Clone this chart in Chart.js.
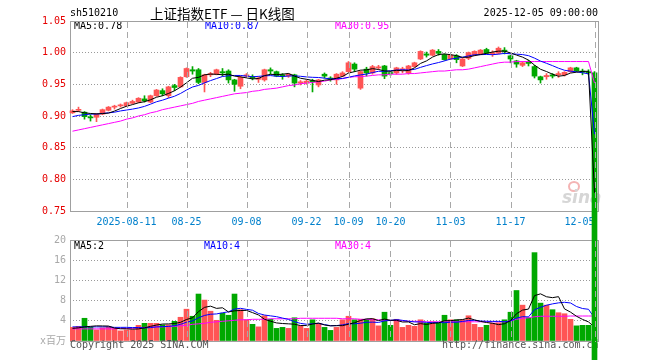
<!DOCTYPE html>
<html>
<head>
<meta charset="utf-8">
<script src="https://cdn.jsdelivr.net/npm/chart.js@4.4.1/dist/chart.umd.min.js"></script>
<style>
  html, body { margin: 0; padding: 0; background: #fff; }
  #wrap { position: relative; width: 660px; height: 360px; overflow: hidden;
          font-family: "DejaVu Sans Mono", monospace; font-size: 10px; }
  canvas { position: absolute; left: 0; top: 0; }
  #volChart { z-index: 1; }
  #priceChart { z-index: 3; }
  .t { position: absolute; z-index: 2; white-space: pre; line-height: 12px; }
  .vline { position: absolute; width: 1px; z-index: 4;
           background: repeating-linear-gradient(to bottom, #a8a8a8 0 6px, transparent 6px 10px); }
</style>
</head>
<body>
<div id="wrap">
  <canvas id="volChart" width="660" height="360"></canvas>

  <div class="t" style="left:70px;top:7px;color:#000">sh510210</div>
  <div class="t" style="left:150px;top:6px;font:13.5px/14px 'Noto Sans CJK SC',sans-serif;color:#000">上证指数ETF — 日K线图</div>
  <div class="t" style="right:62px;top:7px;color:#000">2025-12-05 09:00:00</div>

  <div class="t" id="pMa5" style="left:74px;top:20px;color:#000"></div>
  <div class="t" id="pMa10" style="left:205px;top:20px;color:#0000ff"></div>
  <div class="t" id="pMa30" style="left:335px;top:20px;color:#ff00ff"></div>

  <div class="t" id="vMa5" style="left:74px;top:240px;color:#000"></div>
  <div class="t" id="vMa10" style="left:204px;top:240px;color:#0000ff"></div>
  <div class="t" id="vMa30" style="left:335px;top:240px;color:#ff00ff"></div>

  <div class="t" style="left:568px;top:181px;width:8px;height:7px;border:2px solid #f4b4b4;border-radius:50%"></div>
  <div class="t" style="left:562px;top:189px;font:italic bold 17px/17px 'DejaVu Sans',sans-serif;color:#d6d6d6">sina</div>

  <div class="t" style="left:70px;top:339px;color:#555">Copyright 2025 SINA.COM</div>
  <div class="t" style="left:442px;top:339px;color:#555">http://finance.sina.com.cn</div>

  <canvas id="priceChart" width="660" height="360"></canvas>
</div>
<script>
// trading days shown
const dates = [
  '2025-07-29','2025-07-30','2025-07-31','2025-08-01','2025-08-04','2025-08-05','2025-08-06','2025-08-07','2025-08-08','2025-08-11',
  '2025-08-12','2025-08-13','2025-08-14','2025-08-15','2025-08-18','2025-08-19','2025-08-20','2025-08-21','2025-08-22','2025-08-25',
  '2025-08-26','2025-08-27','2025-08-28','2025-08-29','2025-09-01','2025-09-02','2025-09-03','2025-09-04','2025-09-05','2025-09-08',
  '2025-09-09','2025-09-10','2025-09-11','2025-09-12','2025-09-15','2025-09-16','2025-09-17','2025-09-18','2025-09-19','2025-09-22',
  '2025-09-23','2025-09-24','2025-09-25','2025-09-26','2025-09-29','2025-09-30','2025-10-09','2025-10-10','2025-10-13','2025-10-14',
  '2025-10-15','2025-10-16','2025-10-17','2025-10-20','2025-10-21','2025-10-22','2025-10-23','2025-10-24','2025-10-27','2025-10-28',
  '2025-10-29','2025-10-30','2025-10-31','2025-11-03','2025-11-04','2025-11-05','2025-11-06','2025-11-07','2025-11-10','2025-11-11',
  '2025-11-12','2025-11-13','2025-11-14','2025-11-17','2025-11-18','2025-11-19','2025-11-20','2025-11-21','2025-11-24','2025-11-25',
  '2025-11-26','2025-11-27','2025-11-28','2025-12-01','2025-12-02','2025-12-03','2025-12-04','2025-12-05'
];
const tickDates = ['2025-08-11','2025-08-25','2025-09-08','2025-09-22','2025-10-09','2025-10-20','2025-11-03','2025-11-17','2025-12-05'];

const open = [
  0.905,0.909,0.906,0.898,0.898,0.903,0.909,0.914,0.916,0.916,
  0.920,0.922,0.927,0.922,0.932,0.940,0.932,0.948,0.946,0.962,
  0.973,0.973,0.953,0.965,0.966,0.970,0.971,0.957,0.947,0.963,
  0.962,0.958,0.957,0.973,0.970,0.965,0.963,0.965,0.952,0.952,
  0.956,0.949,0.966,0.960,0.957,0.963,0.970,0.982,0.944,0.974,
  0.968,0.976,0.979,0.968,0.968,0.973,0.968,0.978,0.990,0.998,
  0.996,1.002,0.997,0.990,0.995,0.979,0.991,0.996,0.998,1.005,
  0.998,0.999,1.004,0.995,0.987,0.980,0.985,0.978,0.962,0.962,
  0.965,0.965,0.965,0.970,0.976,0.971,0.970,0.968
];
const close = [
  0.908,0.910,0.899,0.897,0.903,0.910,0.914,0.915,0.917,0.921,
  0.923,0.928,0.924,0.932,0.941,0.935,0.946,0.945,0.961,0.975,
  0.971,0.953,0.965,0.967,0.973,0.968,0.957,0.950,0.961,0.965,
  0.960,0.960,0.973,0.971,0.963,0.963,0.966,0.952,0.954,0.955,
  0.954,0.957,0.963,0.958,0.966,0.968,0.984,0.974,0.970,0.968,
  0.978,0.977,0.963,0.967,0.976,0.974,0.979,0.984,1.002,0.996,
  1.004,0.999,0.989,0.996,0.989,0.990,1.000,1.002,1.004,0.999,
  1.000,1.007,1.002,0.990,0.982,0.984,0.983,0.963,0.957,0.964,
  0.963,0.967,0.969,0.976,0.971,0.969,0.968,0.010
];
const high = [
  0.910,0.914,0.907,0.902,0.904,0.911,0.915,0.917,0.919,0.922,
  0.925,0.929,0.932,0.933,0.942,0.943,0.947,0.950,0.962,0.976,
  0.978,0.975,0.966,0.969,0.974,0.975,0.973,0.958,0.963,0.967,
  0.965,0.962,0.974,0.976,0.971,0.967,0.967,0.966,0.956,0.957,
  0.958,0.958,0.968,0.962,0.967,0.970,0.986,0.984,0.971,0.977,
  0.980,0.980,0.980,0.970,0.977,0.977,0.980,0.985,1.003,1.001,
  1.005,1.005,0.998,0.997,0.997,0.991,1.001,1.003,1.005,1.007,
  1.003,1.009,1.008,0.996,0.988,0.986,0.988,0.980,0.963,0.967,
  0.967,0.970,0.970,0.977,0.977,0.974,0.973,0.970
];
const low = [
  0.904,0.907,0.895,0.892,0.891,0.902,0.908,0.911,0.914,0.915,
  0.919,0.921,0.922,0.921,0.931,0.932,0.929,0.940,0.945,0.961,
  0.966,0.951,0.938,0.962,0.965,0.963,0.952,0.939,0.943,0.961,
  0.957,0.953,0.955,0.966,0.962,0.958,0.961,0.946,0.949,0.950,
  0.938,0.946,0.960,0.955,0.950,0.962,0.969,0.970,0.942,0.963,
  0.966,0.974,0.959,0.964,0.966,0.968,0.966,0.977,0.989,0.993,
  0.995,0.996,0.988,0.989,0.984,0.978,0.989,0.995,0.997,0.998,
  0.994,0.998,0.998,0.984,0.977,0.978,0.979,0.960,0.952,0.958,
  0.960,0.961,0.963,0.969,0.970,0.965,0.965,0.010
];
const ma5 = [
  0.907,0.907,0.905,0.904,0.9034,0.9038,0.9046,0.9078,0.9118,0.9154,
  0.918,0.9208,0.9226,0.9256,0.9296,0.932,0.9356,0.9398,0.9456,0.9524,
  0.9596,0.961,0.965,0.9662,0.9658,0.9652,0.966,0.963,0.9618,0.9602,
  0.9586,0.9592,0.9638,0.9658,0.9654,0.966,0.9672,0.963,0.9596,0.958,
  0.9562,0.9544,0.9566,0.9574,0.9596,0.9624,0.9678,0.97,0.9724,0.9728,
  0.9748,0.9734,0.9712,0.9706,0.9722,0.9714,0.9718,0.976,0.983,0.987,
  0.993,0.997,0.998,0.9968,0.9954,0.9926,0.9928,0.9954,0.997,0.999,
  1.001,1.0024,1.0024,0.9996,0.9962,0.993,0.9882,0.9804,0.9738,0.9702,
  0.966,0.9628,0.964,0.9678,0.9692,0.9704,0.9706,0.7788
];
const ma10 = [
  0.899,0.901,0.902,0.903,0.903,0.904,0.905,0.906,0.908,0.9094,
  0.9109,0.9127,0.9152,0.9187,0.9225,0.925,0.9282,0.9312,0.9356,0.941,
  0.9458,0.9483,0.9524,0.9559,0.9591,0.9624,0.9635,0.964,0.964,0.963,
  0.9619,0.9626,0.9634,0.9638,0.9628,0.9623,0.9632,0.9634,0.9627,0.9617,
  0.9611,0.9608,0.9598,0.9585,0.9588,0.9593,0.9611,0.9633,0.9649,0.9662,
  0.9686,0.9706,0.9706,0.9715,0.9725,0.9731,0.9726,0.9736,0.9768,0.9796,
  0.9822,0.9844,0.987,0.9899,0.9912,0.9928,0.9949,0.9967,0.9969,0.9972,
  0.9968,0.9976,0.9989,0.9983,0.9976,0.997,0.9953,0.9914,0.9867,0.9832,
  0.9795,0.9755,0.9722,0.9708,0.9697,0.9682,0.9667,0.8714
];
const ma30 = [
  0.876,0.878,0.880,0.882,0.884,0.886,0.888,0.890,0.892,0.895,
  0.897,0.900,0.902,0.905,0.907,0.910,0.912,0.914,0.916,0.918,
  0.920,0.923,0.925,0.927,0.929,0.931,0.933,0.935,0.936,0.937,
  0.939,0.940,0.942,0.943,0.944,0.946,0.948,0.949,0.951,0.952,
  0.953,0.954,0.955,0.957,0.958,0.959,0.961,0.962,0.962,0.963,
  0.964,0.965,0.965,0.966,0.966,0.966,0.967,0.967,0.968,0.969,
  0.970,0.971,0.971,0.972,0.973,0.973,0.974,0.976,0.978,0.980,
  0.982,0.984,0.985,0.985,0.986,0.986,0.986,0.986,0.986,0.986,
  0.986,0.986,0.986,0.986,0.986,0.986,0.986,0.952
];

// volume, millions
const volume = [
  2.7,2.9,4.5,2.7,2.2,2.6,2.8,2.5,2.0,2.2,
  2.2,3.1,3.5,3.5,3.5,3.2,3.2,3.9,4.7,6.3,
  4.9,9.3,8.1,5.9,4.1,5.5,5.1,9.3,6.2,4.2,
  3.3,2.8,5.0,4.3,2.5,2.7,2.5,4.6,3.0,2.5,
  4.2,3.5,2.7,2.1,2.7,4.2,4.9,4.2,4.3,4.3,
  4.4,3.0,5.7,3.1,4.3,2.7,3.1,2.9,4.2,3.5,
  3.8,3.5,5.1,4.2,4.2,4.2,5.0,3.3,2.7,3.1,
  3.5,3.6,4.2,5.7,10.0,7.1,4.6,17.5,7.5,7.1,
  6.2,5.6,5.4,4.3,3.0,3.1,3.1,0.3
];
const volMa5 = [
  2.5,2.6,2.8,2.9,3.0,2.98,2.96,2.56,2.42,2.42,
  2.34,2.4,2.6,2.9,3.16,3.36,3.38,3.46,3.7,4.26,
  4.6,5.82,6.66,6.9,6.46,6.58,5.74,5.98,6.04,6.06,
  5.62,5.16,4.3,3.92,3.58,3.46,3.4,3.32,3.06,3.06,
  3.36,3.56,3.18,3.0,3.04,3.04,3.32,3.62,4.06,4.38,
  4.42,4.04,4.34,4.1,4.1,3.76,3.78,3.22,3.44,3.28,
  3.5,3.58,4.02,4.02,4.16,4.24,4.54,4.18,3.88,3.66,
  3.52,3.24,3.42,4.02,5.4,6.12,6.32,8.98,9.34,8.76,
  8.58,8.78,6.36,5.72,4.9,4.28,3.78,2.76
];
const volMa10 = [
  2.8,2.8,2.8,2.8,2.8,2.8,2.8,2.7,2.7,2.71,
  2.66,2.68,2.58,2.66,2.79,2.85,2.89,3.03,3.3,3.71,
  3.98,4.6,5.06,5.3,5.36,5.59,5.78,6.32,6.47,6.26,
  6.1,5.45,5.14,4.98,4.82,4.54,4.28,3.81,3.49,3.32,
  3.41,3.48,3.25,3.03,3.05,3.2,3.44,3.4,3.53,3.71,
  3.73,3.68,3.98,4.08,4.24,4.09,3.91,3.78,3.77,3.69,
  3.63,3.68,3.62,3.73,3.72,3.87,4.06,4.1,3.95,3.91,
  3.88,3.89,3.8,3.95,4.53,4.82,4.78,6.2,6.68,7.08,
  7.35,7.55,7.67,7.53,6.83,6.43,6.28,4.56
];
const volMa30 = [
  2.4,2.4,2.4,2.4,2.4,2.4,2.4,2.4,2.5,2.5,
  2.5,2.6,2.7,2.8,2.8,2.8,2.9,2.9,3.0,3.1,
  3.3,3.4,3.5,3.7,3.8,3.9,4.0,4.1,4.2,4.2,
  4.3,4.3,4.3,4.4,4.4,4.4,4.4,4.4,4.5,4.5,
  4.5,4.5,4.5,4.5,4.5,4.4,4.4,4.4,4.3,4.3,
  4.2,4.2,4.1,4.1,4.0,4.0,3.9,3.9,3.9,3.8,
  3.8,3.8,3.8,3.8,3.8,3.8,3.8,3.8,3.8,3.8,
  3.8,3.8,3.8,4.0,4.3,4.5,4.6,4.8,4.9,4.9,
  4.9,4.9,4.9,4.95,4.95,4.95,4.95,4.95
];

const UP = '#ff5555', DOWN = '#00a800';
const last = dates.length - 1;

// MA readouts
document.getElementById('pMa5').textContent = 'MA5:' + ma5[last].toFixed(2);
document.getElementById('pMa10').textContent = 'MA10:' + ma10[last].toFixed(2);
document.getElementById('pMa30').textContent = 'MA30:' + ma30[last].toFixed(2);
document.getElementById('vMa5').textContent = 'MA5:' + Math.floor(volMa5[last]);
document.getElementById('vMa10').textContent = 'MA10:' + Math.floor(volMa10[last]);
document.getElementById('vMa30').textContent = 'MA30:' + Math.floor(volMa30[last]);

Chart.defaults.font.family = '"DejaVu Sans Mono", "Noto Sans CJK SC", monospace';
Chart.defaults.font.size = 10;

const idx = dates.map((d, i) => i);
const barColor = idx.map(i => close[i] >= open[i] ? UP : DOWN);
const tickIndex = [0].concat(tickDates.map(d => dates.indexOf(d)));
const xMin = -5 / 12, xMax = dates.length - 5 / 12;

function dateLabel(v) {
  const i = Math.round(v);
  if (i === 0) return '';
  return i === tickIndex[1] ? dates[i] : dates[i].slice(5);
}

// plot frame, then dashed date lines on top
const framePlugin = {
  id: 'frame',
  beforeDatasetsDraw(chart) {
    const { ctx, chartArea: a } = chart;
    ctx.save();
    ctx.lineWidth = 1;
    ctx.strokeStyle = '#a0a0a0';
    ctx.strokeRect(a.left + 0.5, a.top + 0.5, a.right - a.left, a.bottom - a.top);
    ctx.restore();
  },
  afterDraw(chart) {
    const { ctx, chartArea: a, scales } = chart;
    ctx.save();
    ctx.lineWidth = 1;
    ctx.strokeStyle = '#a8a8a8';
    ctx.setLineDash([6, 4]);
    tickIndex.slice(1).forEach(i => {
      const px = Math.round(scales.x.getPixelForValue(i)) + 0.5;
      ctx.beginPath();
      ctx.moveTo(px, a.top + 1);
      ctx.lineTo(px, a.bottom);
      ctx.stroke();
    });
    ctx.restore();
  }
};

function xScale(height, showLabels) {
  return {
    type: 'linear', min: xMin, max: xMax, offset: false,
    afterBuildTicks: s => { s.ticks = tickIndex.map(v => ({ value: v })); },
    afterFit: s => { s.height = height; },
    ticks: { display: showLabels, autoSkip: false, maxRotation: 0, minRotation: 0,
             color: '#0080cc', padding: 5, align: 'inner', callback: v => dateLabel(v) },
    grid: { display: false, drawTicks: false, offset: false },
    border: { display: false }
  };
}

const line = (data, color) => ({
  type: 'line', data: idx.map(i => ({ x: i, y: data[i] })),
  borderColor: color, borderWidth: 1, pointRadius: 0, tension: 0, order: 1
});

const priceChart = new Chart(document.getElementById('priceChart'), {
  type: 'bar',
  data: {
    datasets: [
      line(ma5, '#000000'),
      line(ma10, '#0000ff'),
      line(ma30, '#ff00ff'),
      { data: idx.map(i => ({ x: i, y: [open[i], close[i]] })), backgroundColor: barColor,
        barThickness: 5, minBarLength: 1, grouped: false, clip: false, order: 2 },
      { data: idx.map(i => ({ x: i, y: [low[i], high[i]] })), backgroundColor: barColor,
        barThickness: 1, grouped: false, clip: false, order: 3 }
    ]
  },
  options: {
    responsive: false, animation: false, devicePixelRatio: 1, events: [],
    layout: { padding: { top: 21, right: 62, left: 0, bottom: 0 } },
    plugins: { legend: { display: false }, tooltip: { enabled: false } },
    scales: {
      x: xScale(149, true),
      y: {
        type: 'linear', min: 0.75, max: 1.05,
        afterFit: s => { s.width = 70; },
        ticks: { stepSize: 0.05, color: '#e60000', padding: 4, callback: v => v.toFixed(2) },
        grid: { drawTicks: false,
                color: c => (c.tick && (c.tick.value < 0.76 || c.tick.value > 1.04)) ? 'rgba(0,0,0,0)' : '#9a9a9a' },
        border: { display: false, dash: [1, 2] }
      }
    }
  },
  plugins: [framePlugin]
});

const volChart = new Chart(document.getElementById('volChart'), {
  type: 'bar',
  data: {
    datasets: [
      line(volMa5, '#000000'),
      line(volMa10, '#0000ff'),
      line(volMa30, '#ff00ff'),
      { data: idx.map(i => ({ x: i, y: volume[i] })), backgroundColor: barColor,
        barThickness: 5, grouped: false, order: 2 }
    ]
  },
  options: {
    responsive: false, animation: false, devicePixelRatio: 1, events: [],
    layout: { padding: { top: 240, right: 62, left: 0, bottom: 0 } },
    plugins: { legend: { display: false }, tooltip: { enabled: false } },
    scales: {
      x: xScale(19, false),
      y: {
        type: 'linear', min: 0, max: 20,
        afterFit: s => { s.width = 70; },
        ticks: { stepSize: 4, color: '#a8a8a8', padding: 4, callback: v => v === 0 ? 'x百万' : v },
        grid: { drawTicks: false,
                color: c => (c.tick && (c.tick.value === 0 || c.tick.value === 20)) ? 'rgba(0,0,0,0)' : '#9a9a9a' },
        border: { display: false, dash: [1, 2] }
      }
    }
  },
  plugins: [framePlugin]
});

// same date lines as page elements, in case the canvas strokes are lost
const wrap = document.getElementById('wrap');
[priceChart, volChart].forEach(chart => {
  const a = chart.chartArea, sx = chart.scales.x;
  tickIndex.slice(1).forEach(i => {
    let px = sx.getPixelForValue(i);
    if (!isFinite(px)) px = a.left + (i - xMin) / (xMax - xMin) * (a.right - a.left);
    const d = document.createElement('div');
    d.className = 'vline';
    d.style.left = Math.round(px) + 'px';
    d.style.top = (Math.round(a.top) + 1) + 'px';
    d.style.height = Math.round(a.bottom - a.top) + 'px';
    wrap.appendChild(d);
  });
});
</script>
</body>
</html>
